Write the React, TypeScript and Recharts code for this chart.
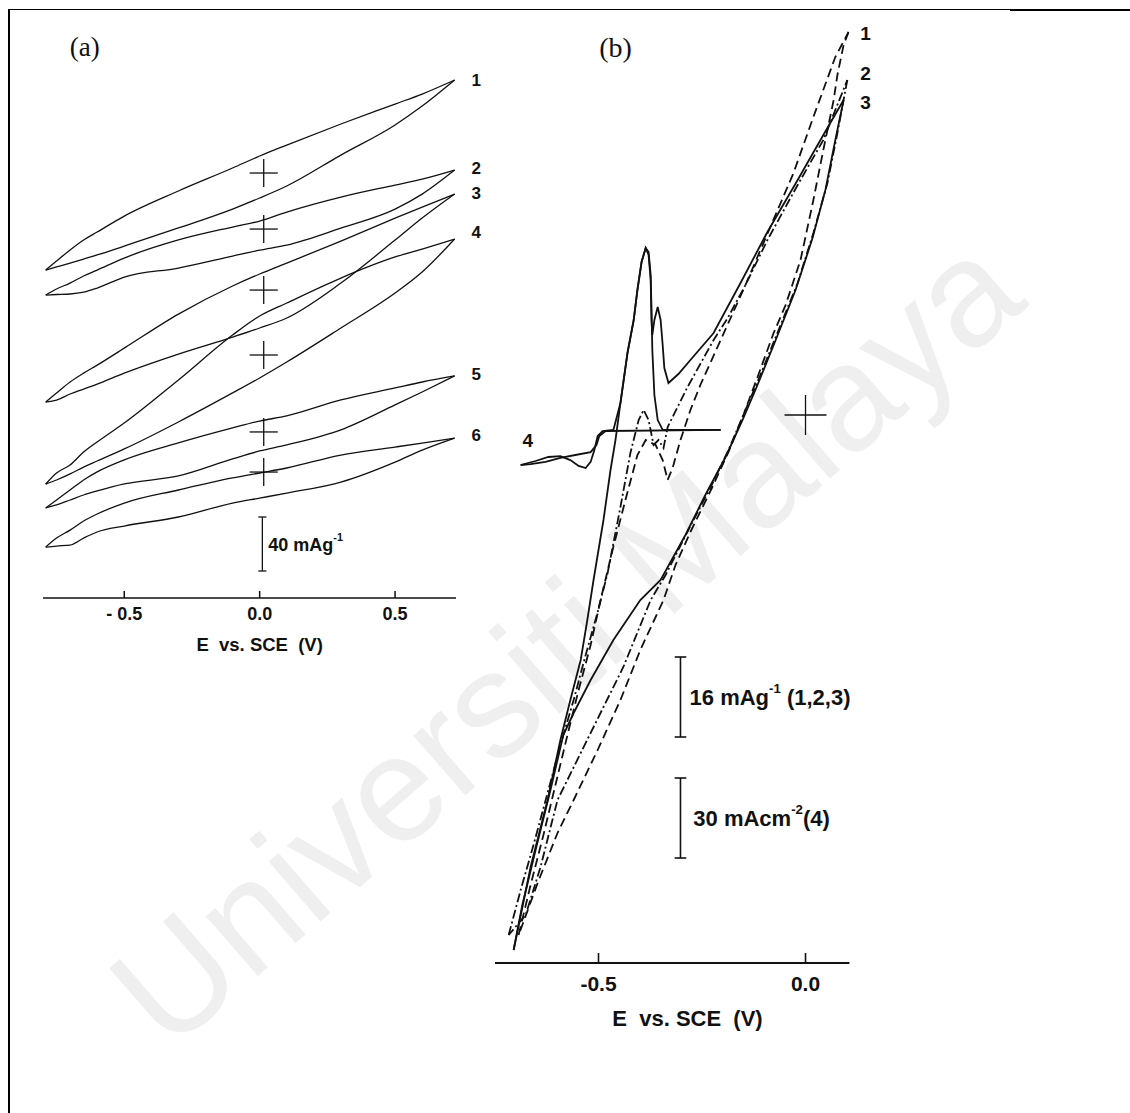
import React from "react";
import { LineChart, Line, XAxis, YAxis, ReferenceLine, ReferenceDot } from "recharts";

const sans = '"Liberation Sans", Arial, Helvetica, sans-serif';
const serif = '"Liberation Serif", "Times New Roman", serif';
const ink = "#111";

// ---------- panel (a): six stacked voltammograms, current in mA g-1 ----------
const potentialsA = [-0.79, -0.75, -0.7, -0.65, -0.6, -0.5, -0.3, -0.1, 0, 0.1, 0.3, 0.5, 0.6, 0.72];
// zero of each trace (marked by a cross at 0 V), in plot units
const zeroOffsetsA = [314.8, 273.3, 228.1, 180.0, 123.0, 93.3];
const forwardA = [
  [-71.9, -65.2, -57.0, -49.6, -43.7, -31.9, -13.3, 3.7, 12.6, 20.7, 36.3, 51.1, 58.5, 68.9],
  [-48.9, -44.4, -40.0, -34.8, -30.4, -21.5, -8.1, 1.5, 5.9, 12.6, 23.7, 32.6, 37.0, 43.7],
  [-83.0, -76.3, -68.1, -61.5, -55.6, -43.0, -17.8, 3.0, 11.9, 20.0, 36.3, 53.3, 61.5, 71.1],
  [-95.6, -87.4, -81.5, -71.9, -64.4, -50.4, -18.5, 14.8, 28.9, 38.5, 57.0, 72.6, 78.5, 85.9],
  [-56.3, -50.4, -43.0, -35.6, -29.6, -20.7, -8.1, 3.0, 8.1, 11.9, 23.7, 32.6, 37.0, 41.5],
  [-55.6, -48.9, -43.0, -36.3, -31.1, -23.0, -13.3, -4.4, -0.7, 3.0, 12.6, 18.5, 21.5, 25.2],
];
const reverseA = [
  [-71.9, -69.6, -66.7, -63.7, -60.7, -54.1, -40.7, -26.7, -18.5, -9.6, 13.3, 35.6, 49.6, 68.9],
  [-48.9, -48.5, -48.1, -46.7, -43.7, -35.6, -28.9, -20.0, -15.6, -11.9, 0.7, 14.8, 25.9, 43.7],
  [-83.0, -81.5, -77.0, -73.3, -69.6, -61.5, -47.4, -34.8, -28.1, -20.7, 5.2, 37.0, 53.3, 71.1],
  [-95.6, -92.6, -88.1, -83.0, -78.5, -69.6, -49.6, -28.1, -17.0, -5.2, 20.0, 45.9, 61.5, 85.9],
  [-56.3, -54.1, -50.4, -46.7, -43.7, -38.5, -32.6, -20.0, -14.1, -9.6, 1.5, 20.0, 29.6, 41.5],
  [-55.6, -54.8, -54.1, -48.9, -44.4, -40.0, -33.3, -23.0, -19.3, -15.6, -7.4, 7.4, 16.3, 25.2],
];
const labelsA = ["1", "2", "3", "4", "5", "6"];
const labelYA = [383.7, 318.5, 300.0, 270.4, 165.9, 120.7];
const ticksA = [-0.5, 0, 0.5];

// ---------- panel (b): curves 1-3 in mA g-1, curve 4 in mA cm-2 ----------
const c1FwdE = [-0.693, -0.664, -0.633, -0.604, -0.575, -0.548, -0.519, -0.495, -0.466, -0.435, -0.406, -0.386, -0.362, -0.345, -0.333, -0.321, -0.302, -0.278, -0.254, -0.205, -0.145, -0.085, -0.029, 0.019, 0.072, 0.104];
const c1FwdI = [-104, -94, -84, -74, -64, -55, -46, -37, -27, -17, -8, -5, -6, -9, -13, -10.6, -5, 1, 6, 15, 26, 37.6, 48.4, 59.6, 71.6, 76.6];
const c1RevE = [0.104, 0.092, 0.077, 0.068, 0.043, 0.019, -0.012, -0.048, -0.077, -0.114, -0.15, -0.186, -0.225, -0.278, -0.314, -0.343, -0.399, -0.447, -0.502, -0.56, -0.599, -0.647, -0.684, -0.693];
const c1RevI = [76.6, 74, 68, 63, 53, 43, 31, 22, 16.4, 8, 0, -7.4, -14.4, -23.4, -30, -37, -47, -57, -67, -77, -83.6, -93.6, -102, -104];

const c2FwdE = [-0.717, -0.688, -0.657, -0.623, -0.592, -0.56, -0.531, -0.502, -0.478, -0.447, -0.423, -0.403, -0.391, -0.379, -0.367, -0.355, -0.343, -0.333, -0.285, -0.222, -0.188, -0.145, -0.092, -0.019, 0.043, 0.101];
const c2FwdI = [-104, -95, -86, -75.6, -66, -57, -48, -39.4, -31.6, -18.4, -7.6, -1, 1, -1, -6, -5, -6.6, -2.4, 5.6, 15, 19.4, 26, 35, 46, 55, 67];
const c2RevE = [0.101, 0.077, 0.053, 0.019, -0.019, -0.068, -0.109, -0.145, -0.186, -0.229, -0.283, -0.338, -0.374, -0.44, -0.488, -0.543, -0.599, -0.64, -0.676, -0.717];
const c2RevI = [67, 56.4, 46.4, 36.4, 26.4, 16.4, 8, 1, -7, -14.4, -23, -32, -37, -50.4, -58.4, -67.6, -77, -90.4, -100, -104];

const c3FwdE = [-0.705, -0.664, -0.623, -0.592, -0.568, -0.543, -0.527, -0.512, -0.488, -0.471, -0.459, -0.447, -0.43, -0.415, -0.406, -0.396, -0.386, -0.379, -0.374, -0.372, -0.37, -0.365, -0.357, -0.35, -0.345, -0.341, -0.331, -0.307, -0.278, -0.222, -0.157, -0.092, -0.019, 0.043, 0.092];
const c3FwdI = [-107, -90.4, -77, -65, -57, -49, -41, -33, -21, -11, -5, 2.4, 12.4, 19, 25, 30.6, 33.4, 32, 27, 19, 16, 19, 21.6, 19, 14, 9.4, 6.4, 8.2, 11, 16.4, 26.4, 36.6, 47, 56, 63];
const c3RevE = [0.092, 0.072, 0.048, 0.017, -0.024, -0.072, -0.116, -0.152, -0.193, -0.242, -0.29, -0.35, -0.399, -0.464, -0.519, -0.56, -0.585, -0.616, -0.652, -0.684, -0.705];
const c3RevI = [63, 55, 45, 35.4, 25, 15, 6, -1, -8.4, -16, -24, -33, -37, -45, -53, -59.6, -64, -75, -87, -98, -107];

const c4FwdE = [-0.688, -0.652, -0.621, -0.592, -0.568, -0.548, -0.531, -0.519, -0.51, -0.502, -0.49, -0.464, -0.447, -0.43, -0.415, -0.406, -0.396, -0.386, -0.379, -0.374, -0.372, -0.37, -0.365, -0.357, -0.345, -0.205];
const c4FwdI = [-18.75, -17.25, -15.75, -15.4, -16.9, -19.1, -19.9, -17.6, -13.1, -7.9, -6, -5.6, 4.5, 23.3, 35.6, 46.9, 57.4, 62.6, 61.1, 52.5, 39.4, 24.4, 7.5, -1.9, -5.6, -5.6];
const c4RevE = [-0.205, -0.483, -0.498, -0.505, -0.519, -0.556, -0.592, -0.628, -0.664, -0.688];
const c4RevI = [-5.6, -6.0, -7.9, -11.25, -13.9, -15, -16.1, -17.6, -18.4, -18.75];
// 30 mA cm-2 and 16 mA g-1 share the same bar length
const cm2ToG = 16 / 30;

const ticksB = [-0.5, 0];

const rows = (es: number[], is: number[], k = 1) => es.map((E, n) => ({ E, I: is[n] * k }));

type TextSpec = {
  text: string;
  sup?: string;
  tail?: string;
  size: number;
  serif?: boolean;
  anchor?: "start" | "middle" | "end";
};

const textShape = (s: TextSpec) => (p: any) => (
  <text
    x={p.cx}
    y={p.cy}
    textAnchor={s.anchor ?? "middle"}
    dominantBaseline="central"
    fontSize={s.size}
    fontWeight={s.serif ? 400 : 700}
    fontFamily={s.serif ? serif : sans}
    fill={ink}
  >
    {s.text}
    {s.sup && (
      <tspan dy={-s.size * 0.42} fontSize={s.size * 0.6}>
        {s.sup}
      </tspan>
    )}
    {s.tail && (
      <tspan dy={s.size * 0.42} fontSize={s.size}>
        {s.tail}
      </tspan>
    )}
  </text>
);

const Tag = (x: number, y: number, s: TextSpec, key: string) => (
  <ReferenceDot key={key} x={x} y={y} r={0} ifOverflow="visible" shape={textShape(s)} />
);

const seg = (x1: number, y1: number, x2: number, y2: number, key: string, w = 1.3) => (
  <ReferenceLine
    key={key}
    segment={[{ x: x1, y: y1 }, { x: x2, y: y2 }]}
    stroke={ink}
    strokeWidth={w}
    ifOverflow="visible"
  />
);

const PanelA = () => {
  const lines = zeroOffsetsA.flatMap((off, c) =>
    [forwardA[c], reverseA[c]].map((branch, b) => (
      <Line
        key={`a-${c}-${b}`}
        data={potentialsA.map((E, n) => ({ E, I: off + branch[n] }))}
        dataKey="I"
        type="monotone"
        stroke={ink}
        strokeWidth={1.3}
        dot={false}
        activeDot={false}
        isAnimationActive={false}
      />
    ))
  );
  const crosses = zeroOffsetsA.flatMap((off, c) => [
    seg(-0.037, off, 0.067, off, `ch${c}`),
    seg(0.015, off - 10.4, 0.015, off + 10.4, `cv${c}`),
  ]);
  return (
    <LineChart width={520} height={700} margin={{ top: 20, right: 64, bottom: 62, left: 43 }}>
      <XAxis
        dataKey="E"
        type="number"
        domain={[-0.8, 0.725]}
        allowDataOverflow
        ticks={ticksA}
        tickFormatter={(v: number) => (v < 0 ? `- ${Math.abs(v).toFixed(1)}` : v.toFixed(1))}
        tickSize={-7}
        tickMargin={16}
        height={40}
        axisLine={{ stroke: ink, strokeWidth: 1.6 }}
        tickLine={{ stroke: ink, strokeWidth: 1.5 }}
        tick={{ fontSize: 18, fontWeight: 700, fill: ink, fontFamily: sans }}
      />
      <YAxis type="number" domain={[0, 428.15]} allowDataOverflow hide width={0} />
      {lines}
      {crosses}
      {seg(0.01, 20, 0.01, 60, "barA")}
      {seg(-0.005, 20, 0.025, 20, "barA0")}
      {seg(-0.005, 60, 0.025, 60, "barA1")}
      {Tag(0.032, 39.3, { text: "40 mAg", sup: "-1", size: 18, anchor: "start" }, "capA")}
      {labelsA.map((t, c) => Tag(0.8, labelYA[c], { text: t, size: 17 }, `lab${c}`))}
      {Tag(-0.646, 408, { text: "(a)", size: 27, serif: true }, "tagA")}
      {Tag(0, -34.8, { text: "E\u00a0\u00a0vs. SCE\u00a0\u00a0(V)", size: 18.5 }, "titleA")}
    </LineChart>
  );
};

const curve = (data: { E: number; I: number }[], key: string, dash?: string) => (
  <Line
    key={key}
    data={data}
    dataKey="I"
    type="linear"
    stroke={ink}
    strokeWidth={1.8}
    strokeDasharray={dash}
    dot={false}
    activeDot={false}
    isAnimationActive={false}
  />
);

const PanelB = () => (
  <LineChart width={440} height={1080} margin={{ top: 20, right: 60.6, bottom: 77, left: 25 }}>
    <XAxis
      dataKey="E"
      type="number"
      domain={[-0.75, 0.106]}
      allowDataOverflow
      ticks={ticksB}
      tickFormatter={(v: number) => v.toFixed(1)}
      tickSize={-10}
      tickMargin={23}
      height={40}
      axisLine={{ stroke: ink, strokeWidth: 2.2 }}
      tickLine={{ stroke: ink, strokeWidth: 1.6 }}
      tick={{ fontSize: 21, fontWeight: 700, fill: ink, fontFamily: sans }}
    />
    <YAxis type="number" domain={[-109.6, 79]} allowDataOverflow hide width={0} />
    {curve(rows(c1FwdE, c1FwdI), "c1f", "9 5")}
    {curve(rows(c1RevE, c1RevI), "c1r", "9 5")}
    {curve(rows(c2FwdE, c2FwdI), "c2f", "9 3 2 3")}
    {curve(rows(c2RevE, c2RevI), "c2r", "9 3 2 3")}
    {curve(rows(c3FwdE, c3FwdI), "c3f")}
    {curve(rows(c3RevE, c3RevI), "c3r")}
    {curve(rows(c4FwdE, c4FwdI, cm2ToG), "c4f")}
    {curve(rows(c4RevE, c4RevI, cm2ToG), "c4r")}
    {seg(-0.0507, 0, 0.0507, 0, "chB")}
    {seg(0, -4, 0, 4, "cvB")}
    {seg(-0.302, -48.4, -0.302, -64.4, "bar1", 1.6)}
    {seg(-0.316, -48.4, -0.288, -48.4, "bar1a", 1.6)}
    {seg(-0.316, -64.4, -0.288, -64.4, "bar1b", 1.6)}
    {seg(-0.302, -72.6, -0.302, -88.6, "bar2", 1.6)}
    {seg(-0.316, -72.6, -0.288, -72.6, "bar2a", 1.6)}
    {seg(-0.316, -88.6, -0.288, -88.6, "bar2b", 1.6)}
    {Tag(-0.28, -56.4, { text: "16 mAg", sup: "-1", tail: "\u00a0(1,2,3)", size: 22, anchor: "start" }, "cap1")}
    {Tag(-0.271, -80.6, { text: "30 mAcm", sup: "-2", tail: "(4)", size: 22, anchor: "start" }, "cap2")}
    {Tag(0.145, 76.4, { text: "1", size: 19 }, "b1")}
    {Tag(0.145, 68.4, { text: "2", size: 19 }, "b2")}
    {Tag(0.145, 62.6, { text: "3", size: 19 }, "b3")}
    {Tag(-0.671, -5, { text: "4", size: 19 }, "b4")}
    {Tag(-0.459, 73.6, { text: "(b)", size: 28, serif: true }, "tagB")}
    {Tag(-0.285, -120.6, { text: "E\u00a0\u00a0vs.\u00a0SCE\u00a0\u00a0(V)", size: 22 }, "titleB")}
  </LineChart>
);

export default function App() {
  return (
    <div
      style={{
        position: "absolute",
        left: 0,
        top: 0,
        width: 1130,
        height: 1113,
        overflow: "hidden",
        background: "#fff",
      }}
    >
      {/* faint diagonal watermark behind both panels */}
      <div
        style={{
          position: "absolute",
          left: 565,
          top: 640,
          transform: "translate(-50%, -50%) rotate(-41deg)",
          whiteSpace: "nowrap",
          fontFamily: sans,
          fontSize: 150,
          lineHeight: 1,
          color: "#efefef",
        }}
      >
        Universiti Malaya
      </div>
      <div style={{ position: "absolute", left: 8, top: 9, width: 2, height: 1104, background: "#000" }} />
      <div style={{ position: "absolute", left: 8, top: 9, width: 1122, height: 1, background: "#000" }} />
      <div style={{ position: "absolute", left: 1010, top: 9, width: 120, height: 2, background: "#000" }} />
      <div style={{ position: "absolute", left: 0, top: 0 }}>
        <PanelA />
      </div>
      <div style={{ position: "absolute", left: 470, top: 0 }}>
        <PanelB />
      </div>
    </div>
  );
}
